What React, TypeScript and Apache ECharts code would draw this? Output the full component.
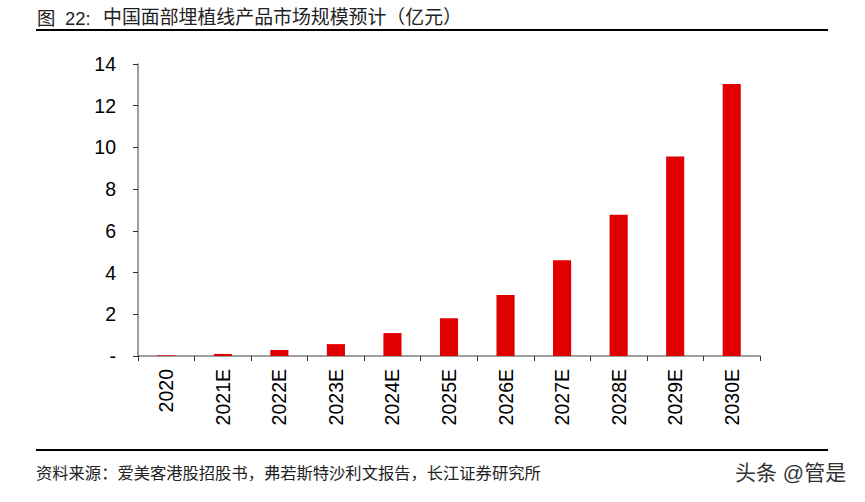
import React, { useEffect, useRef } from "react";
import * as echarts from "echarts";

const categories = ["2020", "2021E", "2022E", "2023E", "2024E", "2025E", "2026E", "2027E", "2028E", "2029E", "2030E"];
const values = [0.03, 0.1, 0.29, 0.57, 1.1, 1.81, 2.93, 4.59, 6.77, 9.57, 13.04];
const yTicks = [0, 2, 4, 6, 8, 10, 12, 14];

const titlePrefix = "图";
const titleNumber = "22:";
const titleText = "中国面部埋植线产品市场规模预计（亿元）";
const sourceText = "资料来源：爱美客港股招股书，弗若斯特沙利文报告，长江证券研究所";
const watermark = "头条 @管是";

export default function App() {
  const ref = useRef<HTMLDivElement>(null);
  useEffect(() => {
    if (!ref.current) return;
    const chart = echarts.init(ref.current, null, { renderer: "svg" });
    const font = "Arial, 'Liberation Sans', 'Noto Sans CJK SC', sans-serif";
    chart.setOption({
      animation: false,
      backgroundColor: "#ffffff",
      textStyle: { fontFamily: font },
      grid: { left: 138, right: 105, top: 64, bottom: 146 },
      xAxis: {
        type: "category",
        data: categories,
        axisLine: { show: true, lineStyle: { color: "#7f7f7f", width: 1.5 } },
        axisTick: { show: true, alignWithLabel: false, length: 5, lineStyle: { color: "#333" } },
        axisLabel: { rotate: 90, margin: 13, color: "#000", fontSize: 19.5, fontFamily: font },
      },
      yAxis: {
        type: "value",
        min: 0,
        max: 14,
        interval: yTicks[1] - yTicks[0],
        axisLine: { show: true, lineStyle: { color: "#7f7f7f", width: 1.5 } },
        axisTick: { show: true, inside: false, length: 5, lineStyle: { color: "#333" } },
        splitLine: { show: false },
        axisLabel: {
          margin: 22,
          color: "#000",
          fontSize: 19.5,
          fontFamily: font,
          formatter: (v: number) => (v === 0 ? "-" : String(v)),
        },
      },
      series: [
        {
          type: "bar",
          data: values,
          barWidth: "32%",
          itemStyle: { color: "#E00000" },
        },
      ],
      graphic: [
        {
          type: "text",
          left: 37,
          top: 9,
          style: { text: titlePrefix, fontSize: 18.4, fill: "#222", fontFamily: font },
        },
        {
          type: "text",
          left: 65,
          top: 9,
          style: { text: titleNumber, fontSize: 18.4, fill: "#222", fontFamily: font },
        },
        {
          type: "text",
          left: 103,
          top: 8,
          style: { text: titleText, fontSize: 18.9, fill: "#222", fontFamily: font },
        },
        {
          type: "line",
          shape: { x1: 36, y1: 30, x2: 828, y2: 30 },
          style: { stroke: "#000", lineWidth: 2 },
        },
        {
          type: "line",
          shape: { x1: 36, y1: 450, x2: 828, y2: 450 },
          style: { stroke: "#000", lineWidth: 2 },
        },
        {
          type: "text",
          left: 36,
          top: 465,
          style: { text: sourceText, fontSize: 16.3, fill: "#222", fontFamily: font },
        },
        {
          type: "text",
          left: 735,
          top: 462,
          style: { text: watermark, fontSize: 21, fill: "#333", fontFamily: font },
        },
      ],
    });
    return () => chart.dispose();
  }, []);
  return <div ref={ref} style={{ width: 865, height: 502, position: "absolute", left: 0, top: 0 }} />;
}
